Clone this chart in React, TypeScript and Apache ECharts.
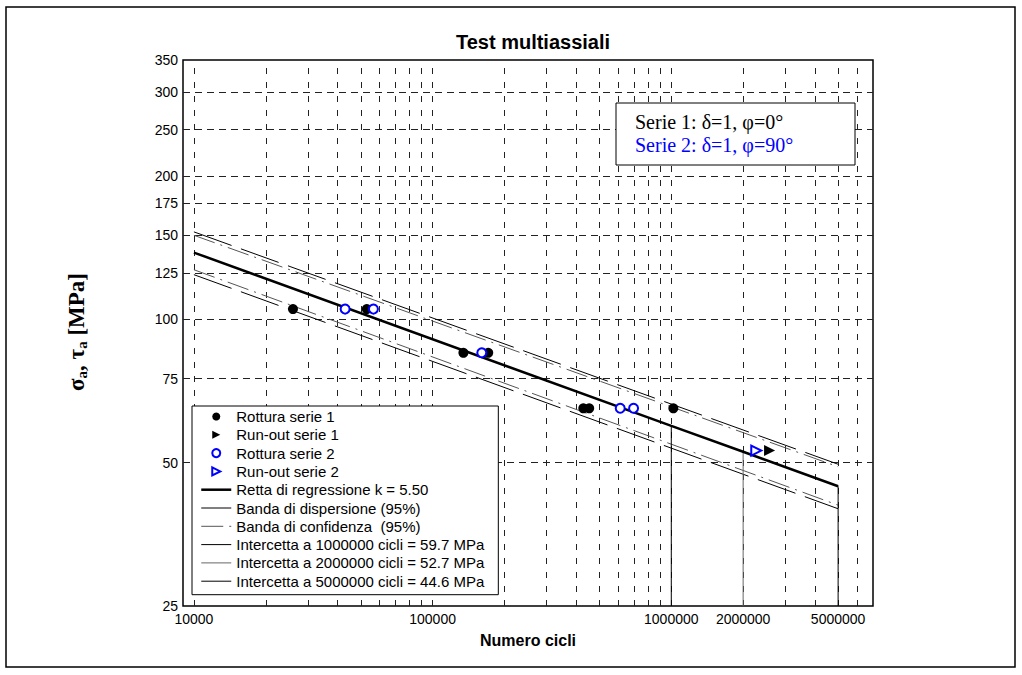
import React, { useEffect, useRef } from 'react';
import * as echarts from 'echarts';

// ---- axis / grid values ----
const xMin = 9000;
const xMax = 7000000;
const yMin = 25;
const yMax = 350;
const xGridTicks = [10000, 20000, 30000, 40000, 50000, 60000, 70000, 80000, 90000, 100000, 200000, 300000, 400000, 500000, 600000, 700000, 800000, 900000, 1000000, 2000000, 3000000, 4000000, 5000000, 6000000];
const xTickLabels = [10000, 100000, 1000000, 2000000, 5000000];
const yGridTicks = [50, 75, 100, 125, 150, 175, 200, 250, 300];
const yTickLabels = [25, 50, 75, 100, 125, 150, 175, 200, 250, 300, 350];

// ---- data (N cycles, stress MPa) ----
const rotturaSerie1: [number, number][] = [[26000, 105], [53000, 105], [134600, 85], [171000, 85], [428000, 65], [453000, 65], [1020000, 65]];
const runoutSerie1: [number, number][] = [[2580000, 53]];
const rotturaSerie2: [number, number][] = [[43000, 105], [56500, 105], [160700, 85], [611000, 65], [695000, 65]];
const runoutSerie2: [number, number][] = [[2270000, 53]];

const regressionN = [10000, 1000000, 2000000, 5000000];
const regressionS = [138, 59.7, 52.7, 44.6];

const bandN = [10000, 5000000];
const dispersionUpper = [152.5, 49.6];
const dispersionLower = [124, 40];
const confidenceUpper = [150, 49];
const confidenceLower = [127, 40.7];

const interceptN = [1000000, 2000000, 5000000];
const interceptS = [59.7, 52.7, 44.6];
const interceptNames = [
  'Intercetta a 1000000 cicli = 59.7 MPa',
  'Intercetta a 2000000 cicli = 52.7 MPa',
  'Intercetta a 5000000 cicli = 44.6 MPa',
];
const interceptColors = ['#000', '#666', '#000'];

const SANS = 'Liberation Sans, Arial, Helvetica, sans-serif';
const SERIF = 'Liberation Serif, Times New Roman, serif';
const NO_DOT = { color: 'rgba(0,0,0,0)' };

const zip = (xs: number[], ys: number[]) => xs.map((x, i) => [x, ys[i]]);

export default function App() {
  const ref = useRef<HTMLDivElement>(null);

  useEffect(() => {
    if (!ref.current) return;
    const chart = echarts.init(ref.current, null, { renderer: 'svg' });

    const xValues = Array.from(new Set([...xGridTicks, ...xTickLabels])).sort((a, b) => a - b);
    const yValues = Array.from(new Set([...yGridTicks, ...yTickLabels]))
      .filter((v) => v > yMin && v < yMax)
      .sort((a, b) => a - b);

    const gridLineData: any[] = [];
    xValues.forEach((v) => {
      gridLineData.push({
        xAxis: v,
        name: String(v),
        lineStyle: { type: [6, 8], color: '#222', width: 1, opacity: xGridTicks.includes(v) ? 1 : 0 },
        label: { show: xTickLabels.includes(v), position: 'start', distance: 6 },
      });
    });
    yValues.forEach((v) => {
      gridLineData.push({
        yAxis: v,
        name: String(v),
        lineStyle: { type: [7, 5], color: '#222', width: 1, opacity: yGridTicks.includes(v) ? 1 : 0 },
        label: { show: yTickLabels.includes(v), position: 'start', distance: 5 },
      });
    });

    const series: any[] = [
      {
        name: '__grid',
        type: 'line',
        data: [],
        silent: true,
        z: 1,
        markLine: {
          silent: true,
          z: 1,
          symbol: 'none',
          animation: false,
          label: {
            formatter: '{b}',
            color: '#000',
            fontSize: 14,
            fontFamily: SANS,
          },
          emphasis: { disabled: true },
          data: gridLineData,
        },
      },
      {
        name: 'Rottura serie 1',
        type: 'scatter',
        data: rotturaSerie1,
        symbol: 'circle',
        symbolSize: 10,
        itemStyle: { color: '#000', opacity: 1 },
        z: 5,
      },
      {
        name: 'Run-out serie 1',
        type: 'scatter',
        data: runoutSerie1,
        symbol: 'path://M0,0L10,5L0,10Z',
        symbolSize: 11,
        itemStyle: { color: '#000', opacity: 1 },
        z: 5,
      },
      {
        name: 'Rottura serie 2',
        type: 'scatter',
        data: rotturaSerie2,
        symbol: 'circle',
        symbolSize: 9,
        itemStyle: { color: '#fff', borderColor: '#0000ff', borderWidth: 2, opacity: 1 },
        z: 6,
      },
      {
        name: 'Run-out serie 2',
        type: 'scatter',
        data: runoutSerie2,
        symbol: 'path://M0,0L10,5L0,10Z',
        symbolSize: 10,
        itemStyle: { color: '#fff', borderColor: '#0000ff', borderWidth: 2, opacity: 1 },
        z: 6,
      },
      {
        name: 'Retta di regressione k = 5.50',
        type: 'line',
        data: zip(regressionN, regressionS),
        symbol: 'none',
        itemStyle: NO_DOT,
        lineStyle: { color: '#000', width: 2.5 },
        z: 4,
      },
      {
        name: 'Banda di dispersione (95%)',
        type: 'line',
        data: zip(bandN, dispersionUpper),
        symbol: 'none',
        itemStyle: NO_DOT,
        lineStyle: { color: '#000', width: 1, type: [40, 10] },
        z: 3,
      },
      {
        name: 'Banda di dispersione (95%)',
        type: 'line',
        data: zip(bandN, dispersionLower),
        symbol: 'none',
        itemStyle: NO_DOT,
        lineStyle: { color: '#000', width: 1, type: [40, 10] },
        z: 3,
      },
      {
        name: 'Banda di confidenza  (95%)',
        type: 'line',
        data: zip(bandN, confidenceUpper),
        symbol: 'none',
        itemStyle: NO_DOT,
        lineStyle: { color: '#555', width: 1, type: [22, 6, 2, 6] },
        z: 3,
      },
      {
        name: 'Banda di confidenza  (95%)',
        type: 'line',
        data: zip(bandN, confidenceLower),
        symbol: 'none',
        itemStyle: NO_DOT,
        lineStyle: { color: '#555', width: 1, type: [22, 6, 2, 6] },
        z: 3,
      },
      ...interceptN.map((n, i) => ({
        name: interceptNames[i],
        type: 'line',
        data: [[n, yMin], [n, interceptS[i]]],
        symbol: 'none',
        itemStyle: NO_DOT,
        lineStyle: { color: interceptColors[i], width: 1 },
        z: 3,
      })),
    ];

    const legendNames = [
      'Rottura serie 1',
      'Run-out serie 1',
      'Rottura serie 2',
      'Run-out serie 2',
      'Retta di regressione k = 5.50',
      'Banda di dispersione (95%)',
      'Banda di confidenza  (95%)',
      ...interceptNames,
    ];

    chart.setOption({
      animation: false,
      textStyle: { fontFamily: SANS },
      title: {
        text: 'Test multiassiali',
        left: 528,
        top: 27,
        textAlign: 'center',
        textStyle: { fontSize: 20, fontWeight: 'bold', color: '#000', fontFamily: SANS },
      },
      grid: {
        left: 183,
        top: 60,
        right: 149,
        bottom: 69,
        show: true,
        borderColor: '#000',
        borderWidth: 1.5,
        backgroundColor: '#fff',
      },
      xAxis: {
        type: 'log',
        logBase: 10,
        min: xMin,
        max: xMax,
        name: 'Numero cicli',
        nameLocation: 'middle',
        nameGap: 26,
        nameTextStyle: { fontSize: 16, fontWeight: 'bold', color: '#000', fontFamily: SANS },
        axisLine: { show: false },
        axisTick: { show: false },
        axisLabel: { show: false },
        splitLine: { show: false },
      },
      yAxis: {
        type: 'log',
        logBase: 10,
        min: yMin,
        max: yMax,
        axisLine: { show: false },
        axisTick: { show: false },
        axisLabel: {
          show: true,
          showMinLabel: true,
          showMaxLabel: true,
          margin: 5,
          color: '#000',
          fontSize: 14,
          fontFamily: SANS,
          formatter: (v: number) => {
            const r = Math.round(v);
            return (r === yMin || r === yMax) && yTickLabels.includes(r) ? String(r) : '';
          },
        },
        splitLine: { show: false },
      },
      legend: {
        data: legendNames,
        orient: 'vertical',
        left: 192,
        top: 406,
        itemWidth: 30,
        itemHeight: 8,
        itemGap: 3.3,
        padding: [3, 14, 6, 8],
        borderColor: '#000',
        borderWidth: 1,
        borderRadius: 0,
        backgroundColor: '#fff',
        selectedMode: false,
        lineStyle: { width: 'inherit' },
        textStyle: { fontSize: 15, lineHeight: 15, color: '#000', fontFamily: SANS },
        z: 10,
      },
      graphic: [
        {
          type: 'rect',
          z: 0,
          silent: true,
          shape: { x: 6, y: 7, width: 1009, height: 660 },
          style: { fill: 'none', stroke: '#000', lineWidth: 1.5 },
        },
        {
          type: 'rect',
          z: 20,
          silent: true,
          shape: { x: 616, y: 103, width: 239, height: 62 },
          style: { fill: '#fff', stroke: '#000', lineWidth: 1 },
        },
        {
          type: 'text',
          z: 21,
          silent: true,
          x: 635,
          y: 122,
          style: {
            text: 'Serie 1: δ=1, φ=0°',
            fill: '#000',
            font: `20px ${SERIF}`,
            align: 'left',
            verticalAlign: 'middle',
          },
        },
        {
          type: 'text',
          z: 21,
          silent: true,
          x: 635,
          y: 145,
          style: {
            text: 'Serie 2: δ=1, φ=90°',
            fill: '#0000ff',
            font: `20px ${SERIF}`,
            align: 'left',
            verticalAlign: 'middle',
          },
        },
        {
          type: 'text',
          z: 21,
          silent: true,
          x: 76,
          y: 332,
          rotation: Math.PI / 2,
          style: {
            text: '{m|σ}{s|a}{m|, τ}{s|a}{m| [MPa]}',
            fill: '#000',
            align: 'center',
            verticalAlign: 'middle',
            rich: {
              m: { fontSize: 23, fontWeight: 'bold', fontFamily: SERIF, lineHeight: 26, fill: '#000' },
              s: { fontSize: 15, fontWeight: 'bold', fontFamily: SERIF, lineHeight: 15, verticalAlign: 'bottom', fill: '#000' },
            },
          },
        },
      ],
      series,
    });

    return () => chart.dispose();
  }, []);

  return (
    <div style={{ position: 'absolute', left: 0, top: 0, width: 1022, height: 675, background: '#fff' }}>
      <div ref={ref} style={{ width: 1022, height: 675 }} />
    </div>
  );
}
